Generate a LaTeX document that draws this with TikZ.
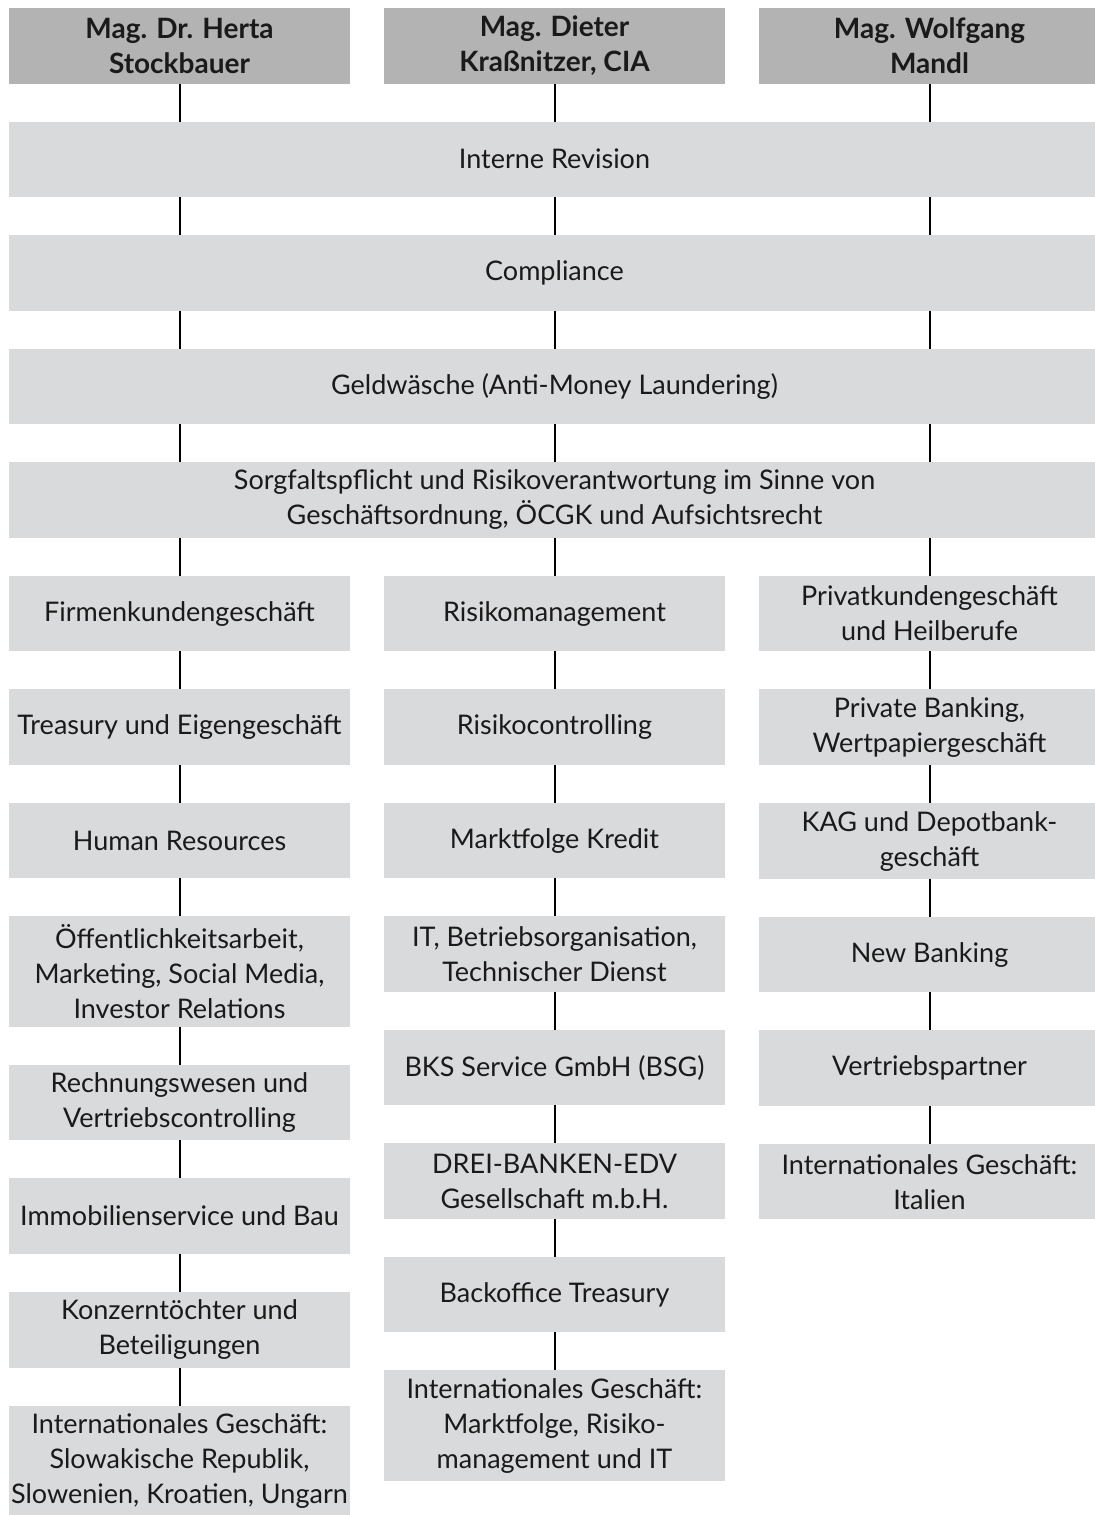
\documentclass[tikz,border=0pt]{standalone}
\usepackage{fontspec}
\setmainfont{Lato}
\usepackage{xcolor}
\usetikzlibrary{positioning}
\definecolor{chiefgray}{HTML}{B3B3B3}
\definecolor{boxgray}{HTML}{D9DADC}
\definecolor{inkgray}{HTML}{1A1A1A}
\tikzset{
  chief/.style = {rectangle, fill=chiefgray, text=inkgray, align=center,
                  minimum width=170.5pt, minimum height=37.75pt,
                  inner xsep=0pt, inner ysep=2pt, outer sep=0pt,
                  font=\fontsize{14}{17.5}\selectfont\bfseries},
  wide/.style  = {rectangle, fill=boxgray, text=inkgray, align=center,
                  minimum width=546pt, minimum height=37.75pt,
                  inner xsep=0pt, inner ysep=4pt, outer sep=0pt,
                  font=\fontsize{13.5}{17.5}\selectfont},
  unit/.style  = {rectangle, fill=boxgray, text=inkgray, align=center,
                  minimum width=170.5pt, minimum height=37.75pt,
                  inner xsep=0pt, inner ysep=4pt, outer sep=0pt,
                  font=\fontsize{13.5}{17.5}\selectfont},
  link/.style  = {draw=black, line width=1pt},
}

\begin{document}
\begin{tikzpicture}[node distance=19pt and 17pt]
\useasboundingbox (0,0) rectangle (547pt,-757.5pt);

% ── Board members ────────────────────────────────────────
\node[chief, anchor=north west] (hdA) at (4.5pt,-4pt)
      {Mag. Dr. Herta\\Stockbauer};
\node[chief, right=of hdA] (hdB) {Mag. Dieter\\Kraßnitzer, CIA};
\node[chief, right=of hdB] (hdC) {Mag. Wolfgang\\Mandl};

% ── Joint responsibilities ───────────────────────────────
\node[wide, below=of hdB] (rev)  {Interne Revision};
\node[wide, below=of rev] (comp) {Compliance};
\node[wide, below=of comp] (aml) {Geldwäsche (Anti-Money Laundering)};
\node[wide, below=of aml] (care)
      {Sorgfaltspflicht und Risikoverantwortung im Sinne von\\
       Geschäftsordnung, ÖCGK und Aufsichtsrecht};

\coordinate (baseA) at (care.south -| hdA);
\coordinate (baseB) at (care.south -| hdB);
\coordinate (baseC) at (care.south -| hdC);

% ── Column A ─────────────────────────────────────────────
\node[unit, below=of baseA] (corp)  {Firmenkundengeschäft};
\node[unit, below=of corp]  (treas) {Treasury und Eigengeschäft};
\node[unit, below=of treas] (hr)    {Human Resources};
\node[unit, below=of hr]    (pr)
      {Öffentlichkeitsarbeit,\\Marketing, Social Media,\\Investor Relations};
\node[unit, below=of pr]    (acct)  {Rechnungswesen und\\Vertriebscontrolling};
\node[unit, below=of acct]  (real)  {Immobilienservice und Bau};
\node[unit, below=of real]  (subs)  {Konzerntöchter und\\Beteiligungen};
\node[unit, below=of subs]  (intA)
      {Internationales Geschäft:\\Slowakische Republik,\\Slowenien, Kroatien, Ungarn};

% ── Column B ─────────────────────────────────────────────
\node[unit, below=of baseB] (risk)  {Risikomanagement};
\node[unit, below=of risk]  (rctl)  {Risikocontrolling};
\node[unit, below=of rctl]  (back)  {Marktfolge Kredit};
\node[unit, below=of back]  (it)    {IT, Betriebsorganisation,\\Technischer Dienst};
\node[unit, below=of it]    (bsg)   {BKS Service GmbH (BSG)};
\node[unit, below=of bsg]   (edv)   {DREI-BANKEN-EDV\\Gesellschaft m.b.H.};
\node[unit, below=of edv]   (bot)   {Backoffice Treasury};
\node[unit, below=of bot]   (intB)
      {Internationales Geschäft:\\Marktfolge, Risiko-\\management und IT};

% ── Column C ─────────────────────────────────────────────
\node[unit, below=of baseC] (retail) {Privatkundengeschäft\\und Heilberufe};
\node[unit, below=of retail] (pb)    {Private Banking,\\Wertpapiergeschäft};
\node[unit, below=of pb]     (kag)   {KAG und Depotbank-\\geschäft};
\node[unit, below=of kag]    (newb)  {New Banking};
\node[unit, below=of newb]   (sales) {Vertriebspartner};
\node[unit, below=of sales]  (intC)  {Internationales Geschäft:\\Italien};

% ── Links through the joint boxes ────────────────────────
\draw[link] (hdA) -- (hdA |- rev.north)
            (rev.south -| hdA) -- (hdA |- comp.north)
            (comp.south -| hdA) -- (hdA |- aml.north)
            (aml.south -| hdA) -- (hdA |- care.north)
            (baseA) -- (corp);
\draw[link] (hdB) -- (hdB |- rev.north)
            (rev.south -| hdB) -- (hdB |- comp.north)
            (comp.south -| hdB) -- (hdB |- aml.north)
            (aml.south -| hdB) -- (hdB |- care.north)
            (baseB) -- (risk);
\draw[link] (hdC) -- (hdC |- rev.north)
            (rev.south -| hdC) -- (hdC |- comp.north)
            (comp.south -| hdC) -- (hdC |- aml.north)
            (aml.south -| hdC) -- (hdC |- care.north)
            (baseC) -- (retail);

% ── Links within the columns ─────────────────────────────
\draw[link] (corp) -- (treas) (treas) -- (hr) (hr) -- (pr) (pr) -- (acct)
            (acct) -- (real) (real) -- (subs) (subs) -- (intA);
\draw[link] (risk) -- (rctl) (rctl) -- (back) (back) -- (it) (it) -- (bsg)
            (bsg) -- (edv) (edv) -- (bot) (bot) -- (intB);
\draw[link] (retail) -- (pb) (pb) -- (kag) (kag) -- (newb) (newb) -- (sales)
            (sales) -- (intC);

\end{tikzpicture}
\end{document}
